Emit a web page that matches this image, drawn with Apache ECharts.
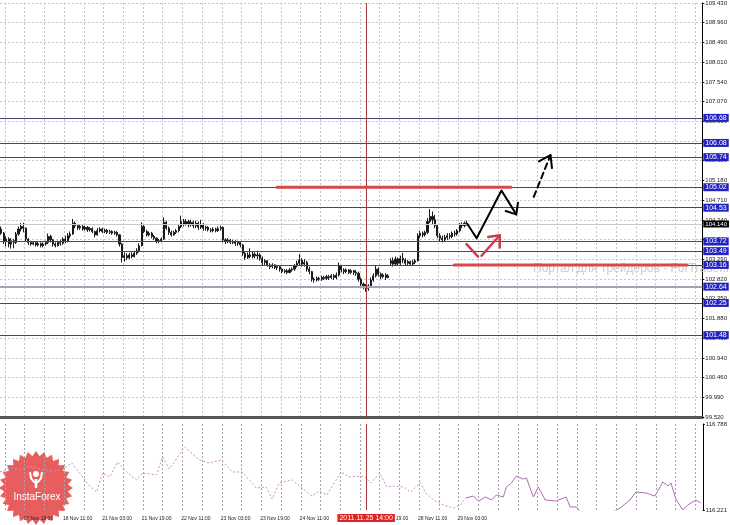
<!DOCTYPE html>
<html>
<head>
<meta charset="utf-8">
<title>USDJPY H1</title>
<script src="https://cdn.jsdelivr.net/npm/echarts@6/dist/echarts.min.js"></script>
<style>
  html, body { margin: 0; padding: 0; background: #fff; }
  #chart { width: 730px; height: 525px; }
</style>
</head>
<body>
<div id="chart"></div>
<script>
// hourly candles [open, close, low, high], first bar 17 Nov 10:00
const candles = [
  [104.02,103.92,103.88,104.08],[103.92,103.72,103.66,103.95],[103.72,103.78,103.60,103.84],[103.78,103.66,103.58,103.82],
  [103.66,103.74,103.55,103.80],[103.74,103.70,103.56,103.78],[103.70,103.90,103.66,103.95],[103.90,104.02,103.86,104.08],
  [104.02,104.08,103.96,104.16],[104.08,104.04,103.94,104.17],[104.04,103.78,103.72,104.06],[103.78,103.70,103.64,103.80],
  [103.70,103.66,103.62,103.74],[103.66,103.69,103.63,103.72],[103.69,103.64,103.60,103.72],[103.64,103.67,103.60,103.71],
  [103.67,103.62,103.58,103.70],[103.62,103.66,103.58,103.70],[103.66,103.70,103.62,103.74],[103.70,103.84,103.66,103.91],
  [103.84,103.76,103.70,103.88],[103.76,103.66,103.60,103.78],[103.66,103.62,103.58,103.70],[103.62,103.70,103.60,103.74],
  [103.70,103.68,103.62,103.76],[103.68,103.78,103.64,103.82],[103.78,103.74,103.68,103.86],[103.74,103.86,103.70,103.92],
  [103.86,103.90,103.80,103.96],[103.90,104.16,103.88,104.26],[104.16,104.10,104.04,104.20],[104.10,104.05,104.00,104.14],
  [104.05,104.08,104.00,104.12],[104.08,104.02,103.98,104.12],[104.02,104.06,103.98,104.10],[104.06,104.00,103.95,104.09],
  [104.00,104.03,103.96,104.07],[104.03,103.96,103.92,104.06],[103.96,103.88,103.82,103.98],[103.88,103.98,103.86,104.04],
  [103.98,104.02,103.94,104.06],[104.02,103.96,103.92,104.05],[103.96,103.99,103.92,104.03],[103.99,103.94,103.90,104.02],
  [103.94,103.96,103.90,104.00],[103.96,103.92,103.88,103.99],[103.92,103.94,103.88,103.98],[103.94,103.88,103.84,103.97],
  [103.88,103.66,103.60,103.90],[103.66,103.34,103.22,103.68],[103.34,103.38,103.24,103.46],[103.38,103.33,103.28,103.44],
  [103.33,103.40,103.30,103.45],[103.40,103.36,103.32,103.46],[103.36,103.44,103.34,103.50],[103.44,103.50,103.40,103.56],
  [103.50,103.62,103.46,103.68],[103.62,104.08,103.60,104.18],[104.08,103.96,103.92,104.12],[103.96,103.88,103.84,104.00],
  [103.88,103.92,103.84,103.96],[103.92,103.84,103.80,103.95],[103.84,103.80,103.76,103.88],[103.80,103.72,103.68,103.82],
  [103.72,103.74,103.68,103.78],[103.74,103.78,103.70,103.82],[103.78,104.18,103.76,104.30],[104.18,104.04,104.00,104.22],
  [104.04,103.94,103.88,104.08],[103.94,103.88,103.84,103.98],[103.88,103.94,103.86,103.98],[103.94,103.98,103.90,104.02],
  [103.98,104.08,103.94,104.12],[104.08,104.20,104.04,104.34],[104.20,104.14,104.08,104.26],[104.14,104.20,104.10,104.26],
  [104.20,104.12,104.06,104.24],[104.12,104.18,104.08,104.24],[104.18,104.10,104.04,104.22],[104.10,104.16,104.04,104.22],
  [104.16,104.06,104.00,104.20],[104.06,104.12,104.02,104.24],[104.12,104.04,103.98,104.16],[104.04,104.06,103.98,104.10],
  [104.06,104.00,103.96,104.09],[104.00,103.98,103.94,104.04],[103.98,104.02,103.94,104.06],[104.02,103.98,103.94,104.05],
  [103.98,104.03,103.95,104.08],[104.03,104.06,103.98,104.10],[104.06,103.76,103.70,104.08],[103.76,103.72,103.66,103.80],
  [103.72,103.75,103.68,103.80],[103.75,103.70,103.66,103.78],[103.70,103.72,103.66,103.76],[103.72,103.68,103.62,103.75],
  [103.68,103.70,103.62,103.74],[103.70,103.64,103.58,103.72],[103.64,103.44,103.38,103.66],[103.44,103.34,103.28,103.48],
  [103.34,103.40,103.30,103.46],[103.40,103.36,103.32,103.56],[103.36,103.42,103.32,103.48],[103.42,103.38,103.32,103.46],
  [103.38,103.40,103.30,103.50],[103.40,103.32,103.26,103.44],[103.32,103.22,103.16,103.36],[103.22,103.26,103.16,103.30],
  [103.26,103.16,103.12,103.28],[103.16,103.12,103.06,103.20],[103.12,103.16,103.08,103.20],[103.16,103.10,103.06,103.18],
  [103.10,103.12,103.04,103.16],[103.12,103.06,103.00,103.14],[103.06,103.00,102.96,103.08],[103.00,103.02,102.96,103.06],
  [103.02,102.98,102.94,103.06],[102.98,103.04,102.96,103.08],[103.04,103.06,103.00,103.10],[103.06,103.14,103.02,103.18],
  [103.14,103.20,103.10,103.26],[103.20,103.28,103.16,103.42],[103.28,103.18,103.12,103.32],[103.18,103.22,103.12,103.30],
  [103.22,103.06,103.00,103.26],[103.06,103.00,102.94,103.12],[103.00,102.82,102.76,103.02],[102.82,102.80,102.74,102.86],
  [102.80,102.84,102.76,102.88],[102.84,102.82,102.78,102.88],[102.82,102.86,102.78,102.90],[102.86,102.84,102.80,102.90],
  [102.84,102.88,102.80,102.92],[102.88,102.86,102.80,102.92],[102.86,102.90,102.82,102.94],[102.90,102.86,102.80,102.94],
  [102.86,102.92,102.82,102.98],[102.92,103.14,102.88,103.22],[103.14,103.04,102.98,103.16],[103.04,103.00,102.94,103.08],
  [103.00,103.04,102.96,103.08],[103.04,102.98,102.94,103.06],[102.98,103.02,102.94,103.06],[103.02,102.98,102.92,103.04],
  [102.98,102.96,102.90,103.04],[102.96,102.82,102.76,103.00],[102.82,102.70,102.62,102.86],[102.70,102.64,102.58,102.74],
  [102.64,102.60,102.52,102.70],[102.60,102.66,102.54,102.70],[102.66,102.80,102.62,102.86],[102.80,102.90,102.76,102.96],
  [102.90,103.06,102.86,103.14],[103.06,102.94,102.88,103.10],[102.94,102.88,102.82,102.98],[102.88,102.92,102.84,102.96],
  [102.92,102.86,102.80,102.96],[102.86,102.90,102.84,102.94],[103.20,103.26,103.14,103.32],[103.26,103.18,103.12,103.34],
  [103.18,103.30,103.14,103.36],[103.30,103.20,103.14,103.34],[103.20,103.32,103.16,103.38],[103.32,103.28,103.20,103.45],
  [103.28,103.20,103.14,103.32],[103.20,103.24,103.16,103.28],[103.24,103.18,103.14,103.26],[103.18,103.22,103.14,103.28],
  [103.22,103.26,103.18,103.30],[103.26,103.86,103.24,103.92],[103.86,103.92,103.80,103.98],[103.92,103.88,103.82,103.96],
  [103.88,103.94,103.84,103.98],[103.94,104.20,103.90,104.28],[104.20,104.32,104.16,104.50],[104.32,104.24,104.14,104.44],
  [104.24,104.10,104.04,104.36],[104.10,103.86,103.80,104.14],[103.86,103.80,103.72,103.92],[103.80,103.76,103.70,103.86],
  [103.76,103.82,103.72,103.88],[103.82,103.86,103.76,103.92],[103.86,103.84,103.78,103.92],[103.84,103.92,103.80,103.96],
  [103.92,103.90,103.84,103.98],[103.90,103.98,103.86,104.02],[103.98,104.12,103.94,104.16],[104.12,104.10,104.04,104.18],
  [104.10,104.16,104.06,104.20],[104.16,104.14,104.10,104.22]
];

const barCount = 285;
const timeLabels = ['17 Nov 19:00', '18 Nov 11:00', '21 Nov 03:00', '21 Nov 19:00', '22 Nov 11:00', '23 Nov 03:00',
  '23 Nov 19:00', '24 Nov 11:00', '25 Nov 03:00', '25 Nov 19:00', '28 Nov 11:00', '29 Nov 03:00'];
const firstLabelBar = 9;
const labelStep = 16;

const priceTicks = ['99.520', '99.990', '100.460', '100.940', '101.410', '101.880', '102.350', '102.820', '103.290',
  '103.770', '104.240', '104.710', '105.180', '105.650', '106.130', '106.600', '107.070', '107.540', '108.010',
  '108.490', '108.960', '109.430'];
const priceMin = 99.52;
const priceMax = 109.43;

const levels = [106.68, 106.08, 105.74, 105.02, 104.53, 103.72, 103.49, 103.16, 102.64, 102.25, 101.48];
const bidPrice = 104.14;
const cursorBar = 148;
const cursorLabel = '2011.11.25 14:00';

// drawn objects, [bar position, price]
const resistanceLine = [[111.9, 105.02], [206.9, 105.02]];
const supportLine = [[183.8, 103.16], [278.4, 103.16]];
const mainPath = [[189.2, 104.14], [192.9, 103.80], [203.0, 104.94], [209.0, 104.37]];
const mainPathHead = [[204.7, 104.45], [209.0, 104.37], [209.7, 104.65]];
const breakoutPath = [[216.1, 104.79], [222.9, 105.79]];
const breakoutHead = [[218.2, 105.64], [222.9, 105.79], [223.5, 105.48]];
const altPathDown = [[188.8, 103.66], [193.5, 103.36]];
const altPathUp = [[194.9, 103.38], [202.3, 103.87]];
const altPathHead = [[197.6, 103.83], [202.3, 103.87], [202.3, 103.58]];

// lower window overlay, [bar position, value]
const indicatorPast = [
  [-0.5,116.472],[3.5,116.498],[7.6,116.485],[11.6,116.511],[16.9,116.485],[21.7,116.478],[25.0,116.491],
  [28.6,116.531],[31.8,116.465],[35.9,116.379],[38.7,116.340],[41.1,116.465],[44.0,116.439],[47.2,116.537],
  [50.8,116.472],[54.9,116.419],[57.3,116.465],[63.0,116.452],[65.4,116.570],[68.2,116.491],[74.3,116.636],
  [80.3,116.551],[84.4,116.531],[89.2,116.551],[93.7,116.472],[97.7,116.472],[103.4,116.366],[107.4,116.373],
  [109.9,116.293],[112.7,116.399],[118.0,116.419],[126.0,116.313],[128.9,116.346],[132.1,116.320],[137.8,116.472],
  [141.0,116.439],[147.1,116.445],[149.9,116.399],[153.5,116.465],[156.3,116.373],[159.2,116.379],[163.2,116.373],
  [166.1,116.340],[170.1,116.399],[172.1,116.333],[175.4,116.287],[179.4,116.254],[183.4,116.234],[186.3,116.254],
  [188.3,116.300]
];
const indicatorRecent = [
  [188.3,116.300],[191.5,116.313],[193.5,116.280],[196.4,116.307],[198.8,116.287],[200.8,116.320],[203.6,116.307],
  [204.9,116.373],[206.9,116.399],[208.9,116.445],[211.7,116.425],[213.0,116.432],[215.8,116.307],[217.8,116.373],
  [220.6,116.287],[225.1,116.280],[229.1,116.307],[230.7,116.241],[233.2,116.241],[236.0,116.188],[240.0,116.122],
  [244.1,116.122],[248.1,116.208],[250.9,116.234],[255.0,116.287],[257.4,116.340],[261.5,116.333],[265.1,116.313],
  [268.3,116.406],[270.4,116.379],[271.6,116.399],[273.6,116.293],[276.4,116.221],[278.4,116.254],[281.7,116.287],
  [283.7,116.267]
];
const indicatorMin = 116.221;
const indicatorMax = 116.788;

const FONT = 'Liberation Sans';

const categories = [];
for (let i = 0; i < barCount; i++) categories.push(String(i));

function timeLabelAt(i) {
  const k = (i - firstLabelBar) / labelStep;
  return Number.isInteger(k) && k >= 0 && k < timeLabels.length ? timeLabels[k] : null;
}

const gridStyle = { color: '#c6c6c6', width: 1, type: [2, 2] };
const everyEighthBar = i => (i - 2) % 8 === 0;

// vertical grid of the lower window, at the same bar boundaries as the upper one
const lowerGridLines = [];
for (let k = 2; k < barCount; k += 8) lowerGridLines.push({ xAxis: k - 0.5 });

function pathSeries(points, color, width, type) {
  return {
    type: 'line', xAxisIndex: 2, yAxisIndex: 0, data: points,
    symbol: 'none', silent: true, z: 5,
    lineStyle: { color: color, width: width, type: type || 'solid', cap: 'round', join: 'round' }
  };
}

const levelMarks = levels.map(v => ({
  yAxis: v,
  lineStyle: v === 102.64 ? { color: '#a2a2b4', width: 2 } : { color: '#45457c', width: 1.2 },
  label: { formatter: v.toFixed(2) }
}));

// InstaForex seal
const seal = [];
const sealCx = 36, sealCy = 488;
for (let k = 0; k < 56; k++) {
  const r = k % 2 ? 32 : 37;
  const a = k * Math.PI / 28;
  seal.push([sealCx + r * Math.cos(a), sealCy + r * Math.sin(a)]);
}

const chart = echarts.init(document.getElementById('chart'));

chart.setOption({
  animation: false,
  backgroundColor: '#fff',
  textStyle: { fontFamily: FONT },
  grid: [
    { left: 0, top: 1, width: 705, height: 416 },
    { left: 0, top: 424, width: 705, height: 86 }
  ],
  xAxis: [
    {
      type: 'category', gridIndex: 0, data: categories, boundaryGap: true,
      axisLine: { show: true, onZero: false, lineStyle: { color: '#555', width: 3 } },
      axisTick: { show: false }, axisLabel: { show: false },
      splitLine: { show: true, interval: everyEighthBar, lineStyle: gridStyle }
    },
    {
      type: 'category', gridIndex: 1, data: categories, boundaryGap: true,
      axisLine: { show: false, onZero: false }, axisTick: { show: false },
      axisLabel: {
        interval: i => timeLabelAt(i) !== null,
        formatter: v => timeLabelAt(Number(v)) || '',
        align: 'left', fontSize: 5, color: '#222', margin: 6
      },
      splitLine: { show: false }
    },
    { type: 'value', gridIndex: 0, min: -0.5, max: barCount - 0.5, show: false },
    { type: 'value', gridIndex: 1, min: -0.5, max: barCount - 0.5, show: false }
  ],
  yAxis: [
    { type: 'value', gridIndex: 0, min: priceMin, max: priceMax, position: 'right', show: false,
      axisLine: { onZero: false } },
    {
      type: 'value', gridIndex: 0, min: 0, max: priceTicks.length - 1, interval: 1, position: 'right',
      axisLine: { show: true, onZero: false, lineStyle: { color: '#000', width: 1 } },
      axisTick: { show: true, length: 2, lineStyle: { color: '#000' } },
      axisLabel: { formatter: v => priceTicks[v], fontSize: 6, color: '#222', margin: 3 },
      splitLine: { show: true, lineStyle: gridStyle }
    },
    {
      type: 'value', gridIndex: 1, min: indicatorMin, max: indicatorMax, interval: 1, position: 'right',
      axisLine: { show: true, onZero: false, lineStyle: { color: '#000', width: 1 } },
      axisTick: { show: true, length: 2, lineStyle: { color: '#000' } },
      axisLabel: { formatter: v => v.toFixed(3), fontSize: 6, color: '#222', margin: 3 },
      splitLine: { show: false }
    }
  ],
  graphic: [
    {
      type: 'text', x: 533, y: 263, silent: true, z: 1,
      style: { text: 'Портал для трейдеров - ForTrader.ru', fill: '#cbcbcb', fontSize: 12, fontFamily: FONT }
    },
    {
      type: 'group', silent: true, z: 20,
      children: [
        { type: 'polygon', shape: { points: seal }, style: { fill: 'rgba(229, 72, 72, 0.88)' } },
        { type: 'circle', shape: { cx: 36, cy: 474, r: 3 }, style: { fill: '#fff' } },
        { type: 'polyline', shape: { points: [[30, 472], [31, 478], [34, 482], [36, 483], [38, 482], [41, 478], [42, 472]] },
          style: { fill: null, stroke: '#fff', lineWidth: 2 } },
        { type: 'line', shape: { x1: 36, y1: 479, x2: 36, y2: 488 }, style: { stroke: '#fff', lineWidth: 2.5 } },
        { type: 'text', x: 37, y: 497,
          style: { text: 'InstaForex', fill: '#fff', fontSize: 10, fontFamily: FONT, align: 'center', verticalAlign: 'middle' } }
      ]
    }
  ],
  series: [
    {
      type: 'candlestick', xAxisIndex: 0, yAxisIndex: 0, data: candles, barWidth: 1.6,
      itemStyle: { color: '#1a1a1a', color0: '#1a1a1a', borderColor: '#1a1a1a', borderColor0: '#1a1a1a', borderWidth: 1 },
      markLine: {
        silent: true, symbol: ['none', 'none'], animation: false,
        lineStyle: { type: 'solid' },
        label: {
          show: true, position: 'end', distance: 1, color: '#fff', backgroundColor: '#2323c2',
          fontSize: 7, fontFamily: FONT, padding: [1, 2, 0, 2]
        },
        data: levelMarks.concat([
          { yAxis: bidPrice, lineStyle: { color: '#c8c8c8', width: 1 },
            label: { formatter: bidPrice.toFixed(3), backgroundColor: '#000', fontSize: 6 } },
          { xAxis: cursorBar, lineStyle: { color: '#a83a3a', width: 1 }, label: { show: false } }
        ])
      }
    },
    pathSeries(resistanceLine, '#d64a4c', 3),
    pathSeries(supportLine, '#d64a4c', 3),
    pathSeries(mainPath, '#000', 2),
    pathSeries(mainPathHead, '#000', 2),
    pathSeries(breakoutPath, '#000', 2, [6, 4]),
    pathSeries(breakoutHead, '#000', 2),
    pathSeries(altPathDown, '#c9404e', 2.5),
    pathSeries(altPathUp, '#c9404e', 2.5),
    pathSeries(altPathHead, '#c9404e', 2.5),
    {
      type: 'line', xAxisIndex: 3, yAxisIndex: 2, data: indicatorPast, symbol: 'none', silent: true,
      lineStyle: { color: '#c98ec9', width: 1, type: [2, 2] },
      markLine: {
        silent: true, symbol: ['none', 'none'], animation: false,
        lineStyle: { color: '#a4a4a4', width: 1, type: [2, 2] }, label: { show: false },
        data: lowerGridLines
      }
    },
    {
      type: 'line', xAxisIndex: 3, yAxisIndex: 2, data: indicatorRecent, symbol: 'none', silent: true,
      lineStyle: { color: '#b46ab4', width: 1 },
      markLine: {
        silent: true, symbol: ['none', 'none'], animation: false,
        lineStyle: { type: 'solid', color: '#a83a3a', width: 1 },
        label: {
          show: true, position: 'start', formatter: cursorLabel, distance: 4, color: '#fff',
          backgroundColor: '#e02424', fontSize: 7, fontFamily: FONT, padding: [1, 2, 0, 2]
        },
        data: [{ xAxis: cursorBar }]
      }
    }
  ]
});
</script>
</body>
</html>
